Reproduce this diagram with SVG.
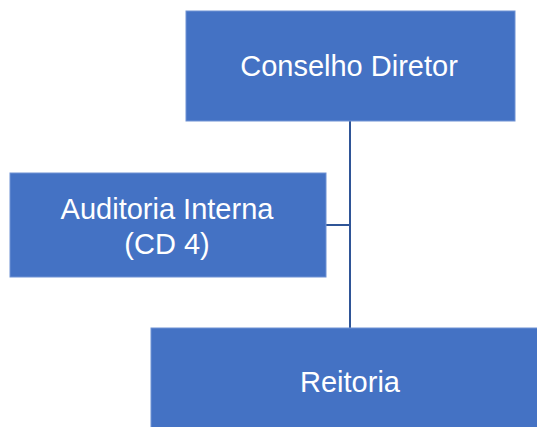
<svg xmlns="http://www.w3.org/2000/svg" width="537" height="427" viewBox="0 0 537 427">
<style>
.box{fill:#4472C4;stroke:#6E92D4;stroke-width:1}
.t{font-family:"Liberation Sans",Arial,sans-serif;font-size:29px;fill:#FFFFFF;text-anchor:middle}
.c{stroke:#2F5597;stroke-width:2;fill:none}
</style>
<rect width="537" height="427" fill="#FFFFFF"/>
<g id="connectors">
<line class="c" x1="350" y1="121" x2="350" y2="328"/>
<line class="c" x1="326" y1="225" x2="350" y2="225"/>
</g>
<g id="conselho-diretor">
<rect class="box" x="186" y="11" width="329" height="110"/>
<text class="t" x="349" y="76">Conselho Diretor</text>
</g>
<g id="auditoria-interna">
<rect class="box" x="10" y="173" width="316" height="104"/>
<text class="t" x="167" y="219">Auditoria Interna</text>
<text class="t" x="167" y="254">(CD 4)</text>
</g>
<g id="reitoria">
<rect class="box" x="151" y="328" width="400" height="104"/>
<text class="t" x="350" y="392">Reitoria</text>
</g>
</svg>
